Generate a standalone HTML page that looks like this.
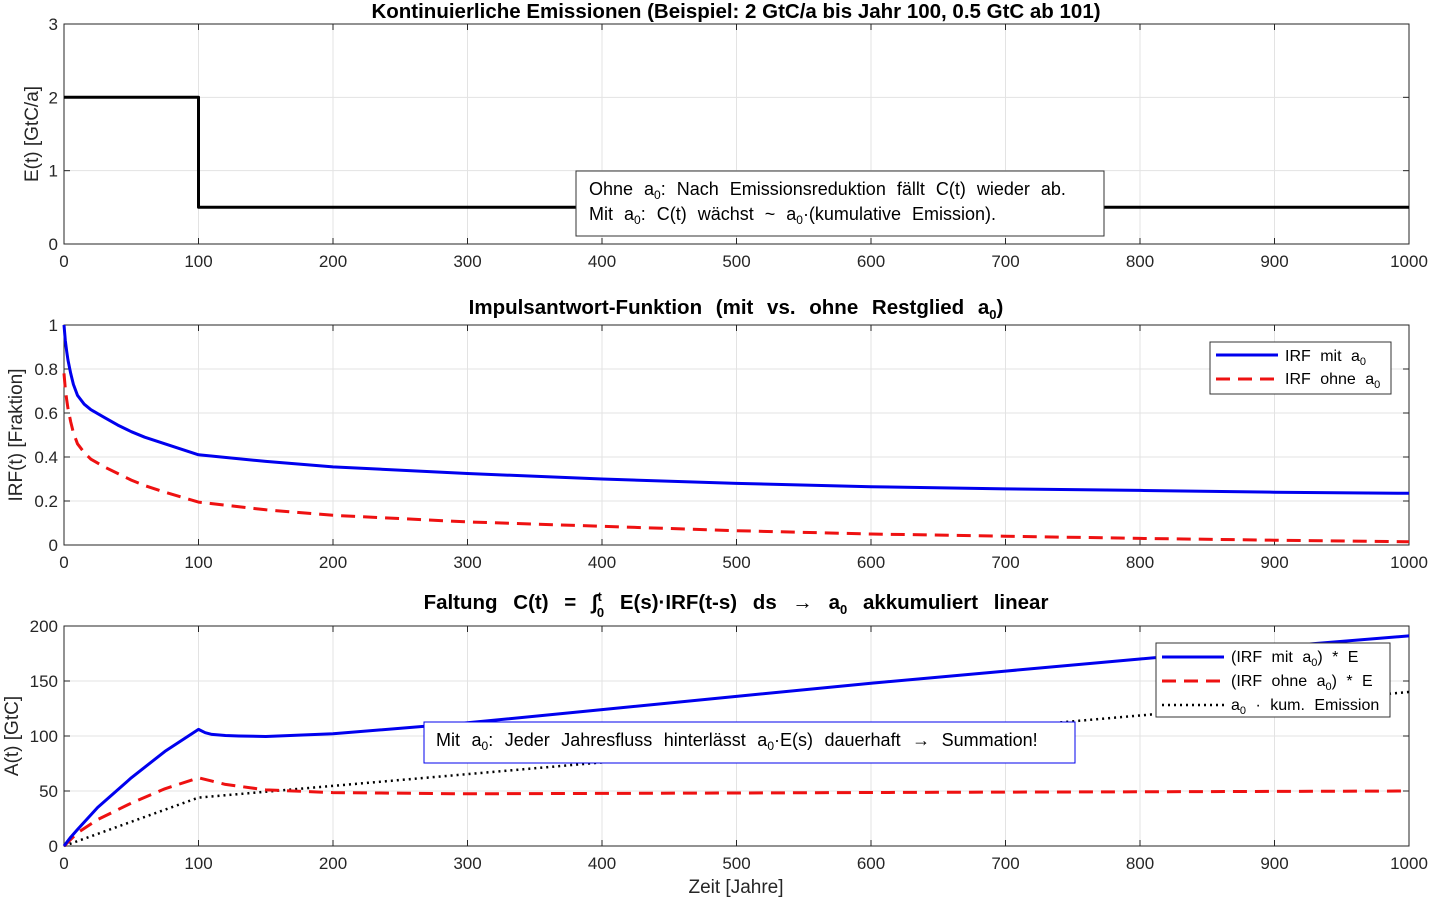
<!DOCTYPE html>
<html><head><meta charset="utf-8"><style>
body{margin:0;background:#fff;}
svg{display:block;font-family:"Liberation Sans",Arial,sans-serif;}
</style></head><body>
<svg id="chart" width="1432" height="900" viewBox="0 0 1432 900"></svg>
<script>
// ---- data ----
const emisT=[0,100,100,1000];
const emisV=[2,2,0.5,0.5];
const irfT=[0,1,2,3,5,7,10,15,20,30,40,50,60,75,100,150,200,300,400,500,600,700,800,900,1000];
const irfMit=[1,0.93,0.88,0.84,0.78,0.73,0.68,0.64,0.615,0.58,0.545,0.515,0.49,0.46,0.41,0.38,0.355,0.325,0.30,0.28,0.265,0.255,0.248,0.24,0.235];
const irfOhne=[0.78,0.71,0.66,0.62,0.56,0.51,0.46,0.42,0.39,0.355,0.325,0.295,0.27,0.24,0.195,0.16,0.135,0.105,0.085,0.065,0.05,0.04,0.03,0.022,0.015];
const accT=[0,5,10,25,50,75,100,105,110,120,130,150,200,300,400,500,600,700,800,900,1000];
const accMit=[0,8,15,35,62,86,106,103,101.5,100.5,100,99.5,102,112,124,136,148,159,170,181,191];
const accOhneT=[0,5,10,25,50,75,100,110,120,150,200,300,400,500,600,700,800,900,1000];
const accOhne=[0,6,12,24,39,52,62,59,56,51,48.5,47.5,47.8,48.2,48.6,49,49.3,49.6,50];
const cumT=[0,100,1000];
const cumV=[0,44,140];
const xTicks=[0,100,200,300,400,500,600,700,800,900,1000];
const y1Ticks=[0,1,2,3];
const y2Ticks=[0,0.2,0.4,0.6,0.8,1];
const y2Labels=["0","0.2","0.4","0.6","0.8","1"];
const y3Ticks=[0,50,100,150,200];

const NS="http://www.w3.org/2000/svg";
const svg=document.getElementById('chart');
function mk(tag,attrs,parent){const e=document.createElementNS(NS,tag);for(const k in attrs)e.setAttribute(k,attrs[k]);(parent||svg).appendChild(e);return e;}
const X0=64,X1=1409;
const sx=t=>X0+(t/1000)*(X1-X0);
function axes(name,top,bot,ymin,ymax,yt,yl,ylabel,labX){
  const g=mk('g',{});
  
  
  const sy=v=>bot-(v-ymin)/(ymax-ymin)*(bot-top);
  mk('rect',{x:X0,y:top,width:X1-X0,height:bot-top,fill:'#fff'},g);
  xTicks.forEach(t=>{const l=mk('line',{x1:sx(t),x2:sx(t),y1:top,y2:bot,stroke:'#e3e3e3','stroke-width':1},g);});
  yt.forEach(v=>{const l=mk('line',{x1:X0,x2:X1,y1:sy(v),y2:sy(v),stroke:'#e3e3e3','stroke-width':1},g);});
  mk('rect',{x:X0,y:top,width:X1-X0,height:bot-top,fill:'none',stroke:'#262626','stroke-width':1},g);
  xTicks.forEach(t=>{mk('line',{x1:sx(t),x2:sx(t),y1:bot,y2:bot-6,stroke:'#262626'},g);mk('line',{x1:sx(t),x2:sx(t),y1:top,y2:top+6,stroke:'#262626'},g);
    const tx=mk('text',{x:sx(t),y:bot+23,'text-anchor':'middle','font-size':17,fill:'#262626'},g);tx.textContent=t;});
  yt.forEach((v,i)=>{mk('line',{x1:X0,x2:X0+6,y1:sy(v),y2:sy(v),stroke:'#262626'},g);mk('line',{x1:X1,x2:X1-6,y1:sy(v),y2:sy(v),stroke:'#262626'},g);
    const tx=mk('text',{x:X0-6,y:sy(v)+6,'text-anchor':'end','font-size':17,fill:'#262626'},g);tx.textContent=yl[i];});
  const yt2=mk('text',{x:0,y:0,transform:`translate(${labX},${(top+bot)/2}) rotate(-90)`,'text-anchor':'middle','font-size':19,fill:'#262626'},g);
  yt2.textContent=ylabel;
  return sy;
}
function line(name,T,V,sy,attrs){
  const d=T.map((t,i)=>(i?'L':'M')+sx(t).toFixed(1)+','+sy(V[i]).toFixed(1)).join('');
  const p=mk('path',Object.assign({d:d,fill:'none','stroke-linejoin':'round'},attrs));
  return p;
}
function title(html,y,name,ws){const t=mk('text',{x:736,y:y,'text-anchor':'middle','font-size':20.5,'font-weight':'bold',fill:'#000','word-spacing':ws});t.innerHTML=html;}

// Panel 1
const sy1=axes('emissions-axes',24,244,0,3,y1Ticks,y1Ticks.map(String),'E(t) [GtC/a]',38);
line('emissions-line',emisT,emisV,sy1,{stroke:'#000','stroke-width':3});
title('Kontinuierliche Emissionen (Beispiel: 2 GtC/a bis Jahr 100, 0.5 GtC ab 101)',18,'emissions-title',0);
{const g=mk('g',{});
mk('rect',{x:576,y:171,width:528,height:65,fill:'#fff',stroke:'#333'},g);
const a=mk('text',{x:589,y:195,'font-size':18,'word-spacing':6},g);a.innerHTML='Ohne a<tspan font-size="12" dy="4">0</tspan><tspan dy="-4">: Nach Emissionsreduktion fällt C(t) wieder ab.</tspan>';
const b=mk('text',{x:589,y:220,'font-size':18,'word-spacing':6},g);b.innerHTML='Mit a<tspan font-size="12" dy="4">0</tspan><tspan dy="-4">: C(t) wächst ~ a</tspan><tspan font-size="12" dy="4">0</tspan><tspan dy="-4">·(kumulative Emission).</tspan>';}

// Panel 2
const sy2=axes('irf-axes',325,545,0,1,y2Ticks,y2Labels,'IRF(t) [Fraktion]',22);
line('irf-ohne-line',irfT,irfOhne,sy2,{stroke:'#ee1111','stroke-width':3,'stroke-dasharray':'14 8'});
line('irf-mit-line',irfT,irfMit,sy2,{stroke:'#0000ee','stroke-width':3});
title('Impulsantwort-Funktion (mit vs. ohne Restglied a<tspan font-size="13" dy="5">0</tspan><tspan dy="-5">)</tspan>',314,'irf-title',8);
{const g=mk('g',{});
mk('rect',{x:1210,y:342,width:181,height:52,fill:'#fff',stroke:'#333'},g);
mk('line',{x1:1216,x2:1278,y1:355,y2:355,stroke:'#0000ee','stroke-width':3},g);
mk('line',{x1:1216,x2:1278,y1:379,y2:379,stroke:'#ee1111','stroke-width':3,'stroke-dasharray':'14 8'},g);
const a=mk('text',{x:1285,y:361,'font-size':16,'word-spacing':5},g);a.innerHTML='IRF mit a<tspan font-size="11" dy="4">0</tspan>';
const b=mk('text',{x:1285,y:384,'font-size':16,'word-spacing':5},g);b.innerHTML='IRF ohne a<tspan font-size="11" dy="4">0</tspan>';}

// Panel 3
const sy3=axes('accumulation-axes',626,846,0,200,y3Ticks,y3Ticks.map(String),'A(t) [GtC]',18);
line('cumulative-line',cumT,cumV,sy3,{stroke:'#000','stroke-width':2.5,'stroke-dasharray':'2 4'});
line('acc-ohne-line',accOhneT,accOhne,sy3,{stroke:'#ee1111','stroke-width':3,'stroke-dasharray':'14 8'});
line('acc-mit-line',accT,accMit,sy3,{stroke:'#0000ee','stroke-width':3});
title('Faltung C(t) = ∫<tspan font-size="13" dy="-8">t</tspan><tspan font-size="13" dx="-5" dy="16">0</tspan><tspan dy="-8"> E(s)·IRF(t-s) ds  →  a</tspan><tspan font-size="13" dy="5">0</tspan><tspan dy="-5"> akkumuliert linear</tspan>',609,'convolution-title',10);
{const g=mk('g',{});
mk('rect',{x:424,y:722,width:651,height:41,fill:'#fff',stroke:'#0000ee'},g);
const a=mk('text',{x:436,y:746,'font-size':18,'word-spacing':6.5},g);a.innerHTML='Mit a<tspan font-size="12" dy="4">0</tspan><tspan dy="-4">: Jeder Jahresfluss hinterlässt a</tspan><tspan font-size="12" dy="4">0</tspan><tspan dy="-4">·E(s) dauerhaft → Summation!</tspan>';}
{const g=mk('g',{});
mk('rect',{x:1156,y:643,width:234,height:74,fill:'#fff',stroke:'#333'},g);
mk('line',{x1:1162,x2:1224,y1:657,y2:657,stroke:'#0000ee','stroke-width':3},g);
mk('line',{x1:1162,x2:1224,y1:681,y2:681,stroke:'#ee1111','stroke-width':3,'stroke-dasharray':'14 8'},g);
mk('line',{x1:1162,x2:1224,y1:705,y2:705,stroke:'#000','stroke-width':2.5,'stroke-dasharray':'2 4'},g);
const a=mk('text',{x:1231,y:662,'font-size':16,'word-spacing':5},g);a.innerHTML='(IRF mit a<tspan font-size="11" dy="4">0</tspan><tspan dy="-4">) * E</tspan>';
const b=mk('text',{x:1231,y:686,'font-size':16,'word-spacing':5},g);b.innerHTML='(IRF ohne a<tspan font-size="11" dy="4">0</tspan><tspan dy="-4">) * E</tspan>';
const c=mk('text',{x:1231,y:710,'font-size':16,'word-spacing':5},g);c.innerHTML='a<tspan font-size="11" dy="4">0</tspan><tspan dy="-4"> · kum. Emission</tspan>';}
{const t=mk('text',{x:736,y:893,'text-anchor':'middle','font-size':19,fill:'#262626'});t.textContent='Zeit [Jahre]';}
</script>
</body></html>
